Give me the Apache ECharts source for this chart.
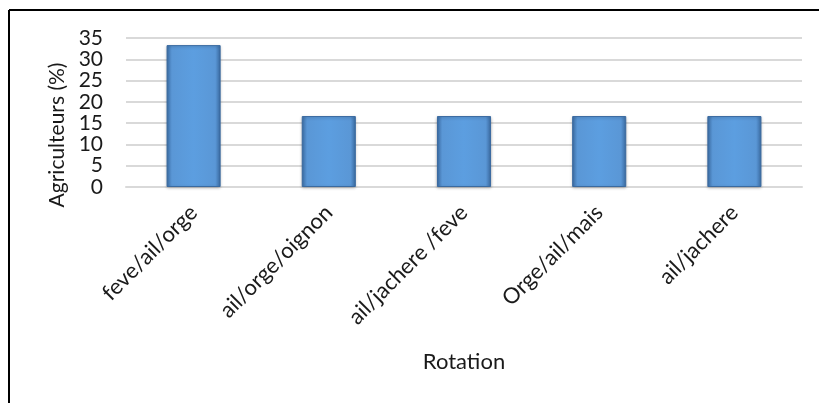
<!DOCTYPE html>
<html>
<head>
<meta charset="utf-8">
<script src="https://cdn.jsdelivr.net/npm/echarts@6/dist/echarts.min.js"></script>
<style>
  html, body { margin: 0; padding: 0; background: #fff; }
  #chart { width: 819px; height: 403px; }
</style>
</head>
<body>
<div id="chart"></div>
<script>
// Crop rotations and share of farmers practising each one
const rotations = ['feve/ail/orge', 'ail/orge/oignon', 'ail/jachere /feve', 'Orge/ail/mais', 'ail/jachere'];
const farmersPct = [33.33, 16.67, 16.67, 16.67, 16.67];
const yTicks = { min: 0, max: 35, step: 5 };

const FONT = 'Lato, "Noto Sans", sans-serif';

const barFill = new echarts.graphic.LinearGradient(0, 0, 1, 0, [
  { offset: 0, color: '#3c6ea6' },
  { offset: 0.1, color: '#5a97d6' },
  { offset: 0.5, color: '#5c9ee0' },
  { offset: 0.9, color: '#5a97d6' },
  { offset: 1, color: '#3c6ea6' }
]);

const chart = echarts.init(document.getElementById('chart'), null, { renderer: 'canvas' });

chart.setOption({
  animation: false,
  backgroundColor: '#ffffff',
  grid: { left: 126, right: 17, top: 38, bottom: 216, containLabel: false },
  graphic: [
    { type: 'line', shape: { x1: 9, y1: 10, x2: 819, y2: 10 }, style: { stroke: '#000', lineWidth: 2 } },
    { type: 'line', shape: { x1: 9, y1: 10, x2: 9, y2: 403 }, style: { stroke: '#000', lineWidth: 2 } }
  ],
  xAxis: {
    type: 'category',
    data: rotations,
    name: 'Rotation',
    nameLocation: 'middle',
    nameGap: 164,
    nameTextStyle: { fontFamily: FONT, fontSize: 22, color: '#1a1a1a' },
    axisLine: { show: true, lineStyle: { color: '#d9d9d9', width: 2 } },
    axisTick: { show: false },
    axisLabel: {
      rotate: 45,
      margin: 22,
      fontFamily: FONT,
      fontSize: 22,
      color: '#1a1a1a',
      interval: 0
    }
  },
  yAxis: {
    type: 'value',
    min: yTicks.min,
    max: yTicks.max,
    interval: yTicks.step,
    name: 'Agriculteurs (%)',
    nameLocation: 'middle',
    nameGap: 56,
    nameTextStyle: { fontFamily: FONT, fontSize: 21, color: '#1a1a1a', padding: [0, 45, 0, 0] },
    axisLine: { show: false },
    axisTick: { show: false },
    axisLabel: { fontFamily: FONT, fontSize: 21, color: '#1a1a1a', margin: 23 },
    splitLine: { lineStyle: { color: '#d9d9d9', width: 2 } }
  },
  series: [{
    type: 'bar',
    data: farmersPct,
    barWidth: '40%',
    itemStyle: {
      color: barFill,
      borderColor: '#3a6aa0',
      borderWidth: 1,
      shadowColor: 'rgba(0,0,0,0.25)',
      shadowBlur: 3,
      shadowOffsetY: 1
    }
  }]
});
</script>
</body>
</html>
